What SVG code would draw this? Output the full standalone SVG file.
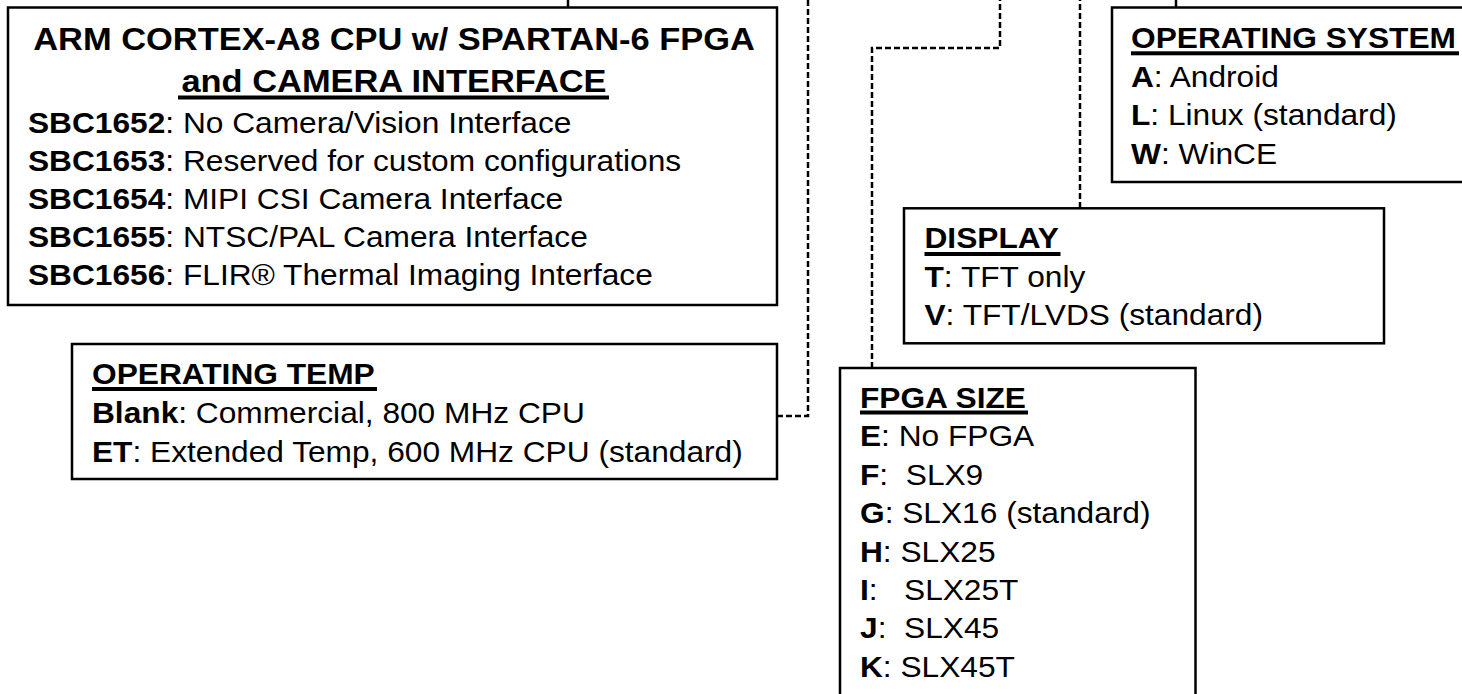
<svg xmlns="http://www.w3.org/2000/svg" width="1462" height="694" viewBox="0 0 1462 694">
<style>
.box{fill:#fff;stroke:#000;stroke-width:2.5}
.t{font-family:"Liberation Sans",Arial,sans-serif;font-size:28.8px;fill:#000}
.b{font-weight:bold}
.title{font-size:31.3px;font-weight:bold}
.ul{fill:#000}
.conn{fill:none;stroke:#000;stroke-width:2.5;stroke-dasharray:6 3}
.solid{fill:none;stroke:#000;stroke-width:2.5}
</style>
<rect width="1462" height="694" fill="#fff"/>
<g id="connectors">
<path class="solid" d="M568,0 V7.5"/>
<path class="conn" d="M777,416 H808 V0"/>
<path class="conn" d="M872,368 V48 H1000 V0"/>
<path class="conn" d="M1080,208 V0"/>
<path class="solid" d="M1176,0 V7.5"/>
</g>
<g id="node-cpu">
<rect class="box" x="8" y="7.5" width="769" height="297.5"/>
<text class="t title" text-anchor="middle" transform="translate(394,50) scale(1.1,1)">ARM CORTEX-A8 CPU w/ SPARTAN-6 FPGA</text>
<text class="t title" text-anchor="middle" transform="translate(394,92) scale(1.1,1)">and CAMERA INTERFACE</text>
<rect class="ul" x="178" y="95.5" width="431" height="4"/>
<text class="t" transform="translate(28,133) scale(1.1,1)"><tspan class="b">SBC1652</tspan>: No Camera/Vision Interface</text>
<text class="t" transform="translate(28,171) scale(1.1,1)"><tspan class="b">SBC1653</tspan>: Reserved for custom configurations</text>
<text class="t" transform="translate(28,209) scale(1.1,1)"><tspan class="b">SBC1654</tspan>: MIPI CSI Camera Interface</text>
<text class="t" transform="translate(28,247) scale(1.1,1)"><tspan class="b">SBC1655</tspan>: NTSC/PAL Camera Interface</text>
<text class="t" transform="translate(28,285) scale(1.1,1)"><tspan class="b">SBC1656</tspan>: FLIR® Thermal Imaging Interface</text>
</g>
<g id="node-temp">
<rect class="box" x="72" y="344" width="705" height="135"/>
<text class="t b" transform="translate(92,384) scale(1.1,1)">OPERATING TEMP</text>
<rect class="ul" x="92" y="387" width="285" height="4"/>
<text class="t" transform="translate(92,423) scale(1.1,1)"><tspan class="b">Blank</tspan>: Commercial, 800 MHz CPU</text>
<text class="t" transform="translate(92,461.5) scale(1.1,1)"><tspan class="b">ET</tspan>: Extended Temp, 600 MHz CPU (standard)</text>
</g>
<g id="node-os">
<rect class="box" x="1112" y="7.5" width="400" height="174.5"/>
<text class="t b" transform="translate(1131,48.3) scale(1.1,1)">OPERATING SYSTEM</text>
<rect class="ul" x="1131" y="51.3" width="328" height="4"/>
<text class="t" transform="translate(1131,86.5) scale(1.1,1)"><tspan class="b">A</tspan>: Android</text>
<text class="t" transform="translate(1131,125) scale(1.1,1)"><tspan class="b">L</tspan>: Linux (standard)</text>
<text class="t" transform="translate(1131,163.5) scale(1.1,1)"><tspan class="b">W</tspan>: WinCE</text>
</g>
<g id="node-display">
<rect class="box" x="904" y="208.3" width="480" height="135"/>
<text class="t b" transform="translate(924.5,248.3) scale(1.1,1)">DISPLAY</text>
<rect class="ul" x="924.5" y="252" width="136" height="4"/>
<text class="t" transform="translate(924.5,286.7) scale(1.1,1)"><tspan class="b">T</tspan>: TFT only</text>
<text class="t" transform="translate(924.5,325) scale(1.1,1)"><tspan class="b">V</tspan>: TFT/LVDS (standard)</text>
</g>
<g id="node-fpga">
<rect class="box" x="840" y="368" width="355.5" height="340"/>
<text class="t b" transform="translate(860,407.5) scale(1.1,1)">FPGA SIZE</text>
<rect class="ul" x="860" y="410.5" width="168" height="4"/>
<text class="t" xml:space="preserve" transform="translate(860,446) scale(1.1,1)"><tspan class="b">E</tspan>: No FPGA</text>
<text class="t" xml:space="preserve" transform="translate(860,484.5) scale(1.1,1)"><tspan class="b">F</tspan>:  SLX9</text>
<text class="t" xml:space="preserve" transform="translate(860,523) scale(1.1,1)"><tspan class="b">G</tspan>: SLX16 (standard)</text>
<text class="t" xml:space="preserve" transform="translate(860,561.5) scale(1.1,1)"><tspan class="b">H</tspan>: SLX25</text>
<text class="t" xml:space="preserve" transform="translate(860,599.5) scale(1.1,1)"><tspan class="b">I</tspan>:   SLX25T</text>
<text class="t" xml:space="preserve" transform="translate(860,638) scale(1.1,1)"><tspan class="b">J</tspan>:  SLX45</text>
<text class="t" xml:space="preserve" transform="translate(860,676.5) scale(1.1,1)"><tspan class="b">K</tspan>: SLX45T</text>
</g>
</svg>
